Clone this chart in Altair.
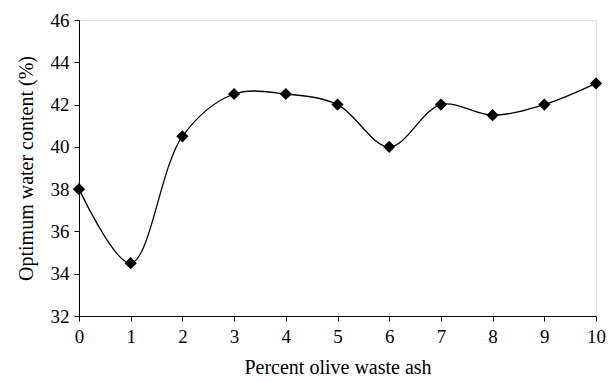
import altair as alt
import pandas as pd

ash = [0, 1, 2, 3, 4, 5, 6, 7, 8, 9, 10]
water = [38, 34.5, 40.5, 42.5, 42.5, 42, 40, 42, 41.5, 42, 43]

df = pd.DataFrame({"ash": ash, "water": water})

FONT = "Liberation Serif"

x = alt.X("ash:Q", scale=alt.Scale(domain=[0, 10], nice=False),
          axis=alt.Axis(title="Percent olive waste ash", values=list(range(0, 11)),
                        grid=False, tickSize=5, labelPadding=6, titlePadding=11,
                        domainColor="black", tickColor="black", labelColor="black",
                        titleColor="black", labelFontSize=19, titleFontSize=20,
                        labelFont=FONT, titleFont=FONT, titleFontWeight="normal",
                        labelFlush=False))
y = alt.Y("water:Q", scale=alt.Scale(domain=[32, 46], nice=False, zero=False),
          axis=alt.Axis(title="Optimum water content (%)", values=list(range(32, 47, 2)),
                        grid=False, tickSize=5, labelPadding=5, titlePadding=14,
                        domainColor="black", tickColor="black", labelColor="black",
                        titleColor="black", labelFontSize=19, titleFontSize=20,
                        labelFont=FONT, titleFont=FONT, titleFontWeight="normal"))

base = alt.Chart(df).encode(x=x, y=y)
line = base.mark_line(interpolate="catmull-rom", color="black", strokeWidth=1.3)
pts = base.mark_point(shape="diamond", filled=True, color="black", size=150, opacity=1)

chart = (line + pts).properties(
    width=517, height=296,
    autosize=alt.AutoSizeParams(type="none"),
    padding={"left": 79, "top": 20, "right": 18, "bottom": 66},
).configure_view(stroke="black", strokeWidth=1.2).configure(background="white")

chart.save("out.html", embed_options={"renderer": "svg", "actions": False})
